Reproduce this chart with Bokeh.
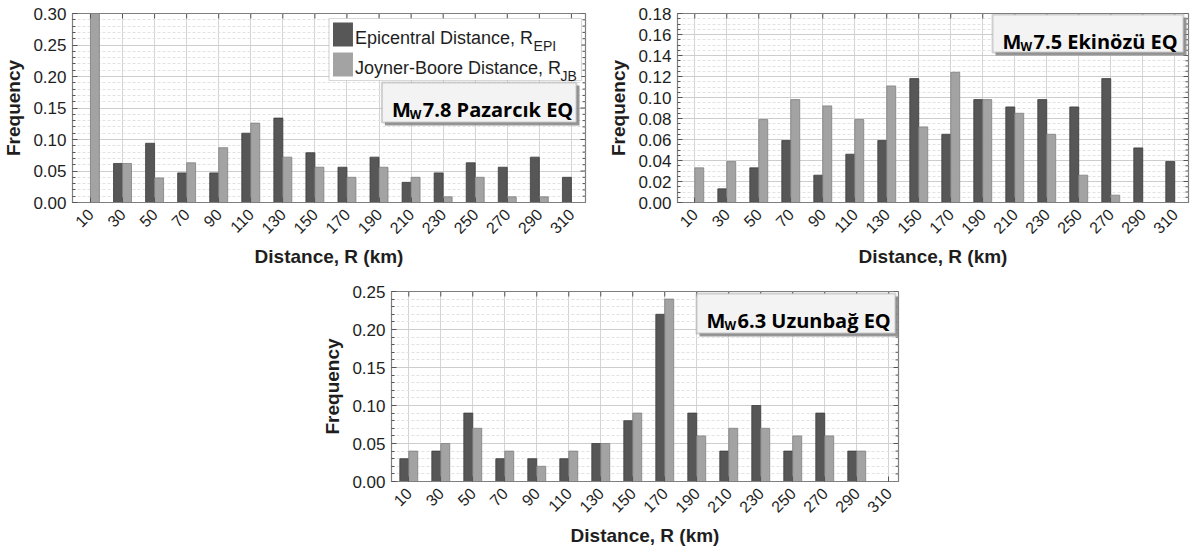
import math
from bokeh.plotting import figure
from bokeh.models import (Range1d, FixedTicker, LinearAxis, BoxAnnotation, Label,
                          Spacer, ColumnDataSource, NumeralTickFormatter)
from bokeh.layouts import column, row
from bokeh.embed import file_html
from bokeh.resources import INLINE

# ---------------- data ----------------
distances = [10, 30, 50, 70, 90, 110, 130, 150, 170, 190, 210, 230, 250, 270, 290, 310]
x_tick_labels = [str(d) for d in distances]

pazarcik_epi = [0.000, 0.062, 0.094, 0.047, 0.047, 0.110, 0.134, 0.079, 0.056, 0.072, 0.032, 0.047, 0.063, 0.056, 0.072, 0.040]
pazarcik_jb  = [0.300, 0.062, 0.039, 0.063, 0.087, 0.126, 0.072, 0.056, 0.040, 0.056, 0.040, 0.009, 0.040, 0.009, 0.009, 0.000]

ekinozu_epi = [0.000, 0.013, 0.033, 0.059, 0.026, 0.046, 0.059, 0.118, 0.065, 0.098, 0.091, 0.098, 0.091, 0.118, 0.052, 0.039]
ekinozu_jb  = [0.033, 0.039, 0.079, 0.098, 0.092, 0.079, 0.111, 0.072, 0.124, 0.098, 0.085, 0.065, 0.026, 0.007, 0.000, 0.000]

uzunbag_epi = [0.03, 0.04, 0.09, 0.03, 0.03, 0.03, 0.05, 0.08, 0.22, 0.09, 0.04, 0.10, 0.04, 0.09, 0.04, 0.00]
uzunbag_jb  = [0.04, 0.05, 0.07, 0.04, 0.02, 0.04, 0.05, 0.09, 0.24, 0.06, 0.07, 0.07, 0.06, 0.06, 0.04, 0.00]

pazarcik_yticks = [0.00, 0.05, 0.10, 0.15, 0.20, 0.25, 0.30]
ekinozu_yticks = [0.00, 0.02, 0.04, 0.06, 0.08, 0.10, 0.12, 0.14, 0.16, 0.18]
uzunbag_yticks = [0.00, 0.05, 0.10, 0.15, 0.20, 0.25]

legend_labels = [("Epicentral Distance, R", "EPI"), ("Joyner-Boore Distance, R", "JB")]

# ---------------- style ----------------
DARK = "#575757"
LIGHT = "#a3a3a3"
BAR_W = 5.6
TXT = "#1e1e1e"
SANS = "Liberation Sans"
TITLE_FONT = "Open Sans"


def minor_list(ticks, n):
    step = (ticks[1] - ticks[0]) / n
    out = []
    for i in range(len(ticks) - 1):
        for k in range(1, n):
            out.append(ticks[i] + k * step)
    return out


def make_panel(epi, jb, yticks, n_minor, xr, width, height, mbl, mbr, mbt, mbb):
    p = figure(width=width, height=height, x_range=Range1d(*xr),
               y_range=Range1d(yticks[0], yticks[-1]),
               output_backend="svg", toolbar_location=None,
               min_border_left=mbl, min_border_right=mbr,
               min_border_top=mbt, min_border_bottom=mbb)
    p.background_fill_color = "white"
    p.border_fill_color = "white"
    p.outline_line_color = "#7f7f7f"
    p.outline_line_width = 1.2

    src = ColumnDataSource(dict(x_epi=[d - BAR_W / 2 for d in distances],
                                x_jb=[d + BAR_W / 2 for d in distances],
                                epi=epi, jb=jb))
    p.vbar(x="x_epi", top="epi", bottom=0, width=BAR_W, source=src,
           fill_color=DARK, line_color="#3c3c3c", line_width=0.8)
    p.vbar(x="x_jb", top="jb", bottom=0, width=BAR_W, source=src,
           fill_color=LIGHT, line_color="#808080", line_width=0.8)

    xt = FixedTicker(ticks=distances)
    yt = FixedTicker(ticks=yticks, minor_ticks=minor_list(yticks, n_minor))

    xa = p.xaxis[0]
    xa.ticker = xt
    xa.major_label_overrides = {d: s for d, s in zip(distances, x_tick_labels)}
    xa.major_label_orientation = math.pi / 4
    xa.major_label_text_font = SANS
    xa.major_label_text_font_size = "16px"
    xa.major_label_text_color = TXT
    xa.major_label_standoff = 9
    xa.major_tick_in = 5
    xa.major_tick_out = 0
    xa.minor_tick_in = 0
    xa.minor_tick_out = 0
    xa.axis_line_color = "#7f7f7f"
    xa.major_tick_line_color = "#555555"
    xa.axis_label = "Distance, R (km)"
    xa.axis_label_text_font = SANS
    xa.axis_label_text_font_style = "bold"
    xa.axis_label_text_font_size = "19px"
    xa.axis_label_text_color = TXT
    xa.axis_label_standoff = 4

    ya = p.yaxis[0]
    ya.ticker = yt
    ya.formatter = NumeralTickFormatter(format="0.00")
    ya.major_label_text_font = SANS
    ya.major_label_text_font_size = "17px"
    ya.major_label_text_color = TXT
    ya.major_label_standoff = 6
    ya.major_tick_in = 5
    ya.major_tick_out = 0
    ya.minor_tick_in = 3
    ya.minor_tick_out = 0
    ya.axis_line_color = "#7f7f7f"
    ya.major_tick_line_color = "#555555"
    ya.minor_tick_line_color = "#555555"
    ya.axis_label = "Frequency"
    ya.axis_label_text_font = SANS
    ya.axis_label_text_font_style = "bold"
    ya.axis_label_text_font_size = "19px"
    ya.axis_label_text_color = TXT
    ya.axis_label_standoff = 6

    # inward ticks on the top and right edges (drawn as short segments)
    ylen = yticks[-1] - yticks[0]
    tick_top = yticks[-1] - ylen * 5 / (height - mbt - mbb)
    p.segment(x0=distances, x1=distances, y0=[yticks[-1]] * len(distances),
              y1=[tick_top] * len(distances), line_color="#555555", line_width=1)
    xlen = xr[1] - xr[0]
    fw = width - mbl - mbr
    major_len = xlen * 5 / fw
    minor_len = xlen * 3 / fw
    p.segment(x0=[xr[1]] * len(yticks), x1=[xr[1] - major_len] * len(yticks),
              y0=yticks, y1=yticks, line_color="#555555", line_width=1)
    mins = minor_list(yticks, n_minor)
    p.segment(x0=[xr[1]] * len(mins), x1=[xr[1] - minor_len] * len(mins),
              y0=mins, y1=mins, line_color="#555555", line_width=1)

    p.xgrid[0].ticker = xt
    p.xgrid[0].grid_line_color = "#d4d4d4"
    p.xgrid[0].grid_line_width = 1
    p.ygrid[0].ticker = yt
    p.ygrid[0].grid_line_color = "#cdcdcd"
    p.ygrid[0].minor_grid_line_color = "#e2e2e2"
    p.ygrid[0].minor_grid_line_dash = "3 2"
    return p


class Frame:
    def __init__(self, left, top, w, h, xr, yr):
        self.left, self.top, self.w, self.h = left, top, w, h
        self.xr, self.yr = xr, yr

    def x(self, px):
        return self.xr[0] + (px - self.left) / self.w * (self.xr[1] - self.xr[0])

    def y(self, py):
        return self.yr[1] - (py - self.top) / self.h * (self.yr[1] - self.yr[0])


def add_title_box(p, fr, x0, y0, x1, y1, mag, name):
    # shadow
    p.add_layout(BoxAnnotation(left=fr.x(x0 + 3), right=fr.x(x1 + 3), top=fr.y(y0 + 3), bottom=fr.y(y1 + 3),
                               fill_color="#8c8c8c", fill_alpha=0.9, line_color=None))
    p.add_layout(BoxAnnotation(left=fr.x(x0), right=fr.x(x1), top=fr.y(y0), bottom=fr.y(y1),
                               fill_color="#f3f3f3", fill_alpha=1.0, line_color="#6f6f6f", line_width=2))
    bx = x0 + 10
    by = y0 + 27
    p.add_layout(Label(x=fr.x(bx), y=fr.y(by), text="M", text_font=TITLE_FONT,
                       text_font_style="bold", text_font_size="20px", text_color="black",
                       text_baseline="alphabetic"))
    p.add_layout(Label(x=fr.x(bx + 18), y=fr.y(by + 5), text="W", text_font=TITLE_FONT,
                       text_font_style="bold", text_font_size="12px", text_color="black",
                       text_baseline="alphabetic"))
    p.add_layout(Label(x=fr.x(bx + 31), y=fr.y(by), text=f"{mag} {name} EQ", text_font=TITLE_FONT,
                       text_font_style="bold", text_font_size="20px", text_color="black",
                       text_baseline="alphabetic"))


def add_legend(p, fr):
    x0, y0, x1, y1 = 328, 18, 581, 80
    p.add_layout(BoxAnnotation(left=fr.x(x0), right=fr.x(x1), top=fr.y(y0), bottom=fr.y(y1),
                               fill_color="white", fill_alpha=1.0, line_color="#7f7f7f", line_width=1.2))
    colors = [DARK, LIGHT]
    sub_offsets = [179, 206]
    for i, ((main, sub), col) in enumerate(zip(legend_labels, colors)):
        top = 22 + i * 30
        p.add_layout(BoxAnnotation(left=fr.x(332), right=fr.x(352), top=fr.y(top), bottom=fr.y(top + 24),
                                   fill_color=col, fill_alpha=1.0, line_color=None))
        p.add_layout(Label(x=fr.x(354), y=fr.y(top + 15), text=main, text_font=SANS,
                           text_font_size="18px", text_color=TXT, text_baseline="alphabetic"))
        p.add_layout(Label(x=fr.x(354 + sub_offsets[i]), y=fr.y(top + 23), text=sub, text_font=SANS,
                           text_font_size="14px", text_color=TXT, text_baseline="alphabetic"))


# ---------------- panels ----------------
xr1 = (-1.2, 318.8)
p1 = make_panel(pazarcik_epi, pazarcik_jb, pazarcik_yticks, 5, xr1,
                width=595, height=275, mbl=71, mbr=10, mbt=13, mbb=73)
fr1 = Frame(71, 13, 514, 189, xr1, (0, 0.30))
add_legend(p1, fr1)
add_title_box(p1, fr1, 381, 82, 576, 122, "7.8", "Pazarcık")

xr2 = (-0.8, 318.6)
p2 = make_panel(ekinozu_epi, ekinozu_jb, ekinozu_yticks, 4, xr2,
                width=597, height=275, mbl=82, mbr=4, mbt=13, mbb=73)
fr2 = Frame(677, 13, 511, 189, xr2, (0, 0.18))
add_title_box(p2, fr2, 992, 14, 1183, 52, "7.5", "Ekinözü")

xr3 = (-0.8, 316.1)
p3 = make_panel(uzunbag_epi, uzunbag_jb, uzunbag_yticks, 5, xr3,
                width=600, height=282, mbl=86, mbr=7, mbt=16, mbb=76)
fr3 = Frame(391, 291, 507, 190, xr3, (0, 0.25))
add_title_box(p3, fr3, 696, 293, 895, 333, "6.3", "Uzunbağ")

layout = column(row(p1, p2), row(Spacer(width=305, height=282), p3))

open("out.html", "w").write(file_html(layout, INLINE))
